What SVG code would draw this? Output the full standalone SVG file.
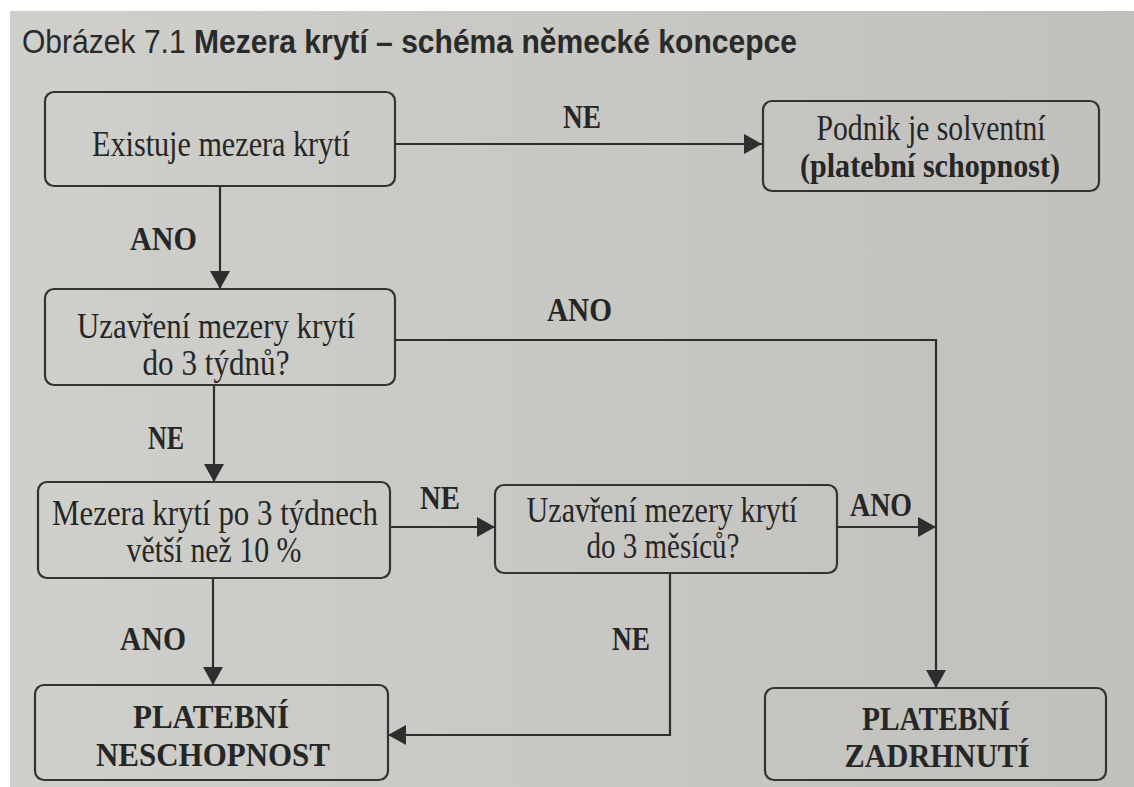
<svg xmlns="http://www.w3.org/2000/svg" width="1134" height="787" viewBox="0 0 1134 787">
<defs>
<linearGradient id="page" x1="0" y1="0" x2="1" y2="0">
<stop offset="0" stop-color="#cfcfcb"/>
<stop offset="1" stop-color="#c1c0bc"/>
</linearGradient>
<marker id="arr" viewBox="0 0 18 20" refX="18" refY="10" markerWidth="18" markerHeight="20" markerUnits="userSpaceOnUse" orient="auto">
<path d="M0,0 L18,10 L0,20 Z" fill="#2e2e2e"/>
</marker>
<style>
.box{fill:none;stroke:#333;stroke-width:2.2}
.t{font-family:"Liberation Serif","Times New Roman",serif;font-size:35px;fill:#262626;text-anchor:middle}
.b{font-family:"Liberation Serif","Times New Roman",serif;font-size:33px;font-weight:bold;fill:#262626}
.c{font-family:"Liberation Serif","Times New Roman",serif;font-size:33px;font-weight:bold;fill:#262626;text-anchor:middle}
.ln{fill:none;stroke:#2e2e2e;stroke-width:2.2}
.title{font-family:"Liberation Sans",Arial,sans-serif;font-size:33px;fill:#2a2a2a}
</style>
</defs>
<rect x="0" y="0" width="1134" height="787" fill="#ffffff"/>
<rect x="10" y="11" width="1124" height="776" fill="url(#page)"/>
<g id="title">
<text class="title" x="22" y="53" textLength="775" lengthAdjust="spacingAndGlyphs">Obrázek 7.1 <tspan font-weight="bold">Mezera krytí – schéma německé koncepce</tspan></text>
</g>
<g id="connectors">
<line class="ln" x1="395" y1="144" x2="762" y2="144" marker-end="url(#arr)"/>
<line class="ln" x1="220" y1="186" x2="220" y2="289" marker-end="url(#arr)"/>
<polyline class="ln" points="395,340 936,340 936,688" marker-end="url(#arr)"/>
<line class="ln" x1="214" y1="385" x2="214" y2="482" marker-end="url(#arr)"/>
<line class="ln" x1="390" y1="527" x2="495" y2="527" marker-end="url(#arr)"/>
<line class="ln" x1="837" y1="527" x2="936" y2="527" marker-end="url(#arr)"/>
<line class="ln" x1="213" y1="578" x2="213" y2="685" marker-end="url(#arr)"/>
<polyline class="ln" points="670,573 670,735 388,735" marker-end="url(#arr)"/>
<text class="b" x="563" y="128" textLength="38" lengthAdjust="spacingAndGlyphs">NE</text>
<text class="b" x="130" y="250" textLength="67" lengthAdjust="spacingAndGlyphs">ANO</text>
<text class="b" x="547" y="321" textLength="65" lengthAdjust="spacingAndGlyphs">ANO</text>
<text class="b" x="148" y="449" textLength="36" lengthAdjust="spacingAndGlyphs">NE</text>
<text class="b" x="420" y="509" textLength="40" lengthAdjust="spacingAndGlyphs">NE</text>
<text class="b" x="850" y="516" textLength="62" lengthAdjust="spacingAndGlyphs">ANO</text>
<text class="b" x="612" y="650" textLength="38" lengthAdjust="spacingAndGlyphs">NE</text>
<text class="b" x="120" y="650" textLength="66" lengthAdjust="spacingAndGlyphs">ANO</text>
</g>
<g id="n1">
<rect class="box" x="45" y="92" width="350" height="94" rx="9"/>
<text class="t" x="221" y="156" textLength="258" lengthAdjust="spacingAndGlyphs">Existuje mezera krytí</text>
</g>
<g id="n2">
<rect class="box" x="763" y="101" width="336" height="90" rx="9"/>
<text class="t" x="931" y="140" textLength="229" lengthAdjust="spacingAndGlyphs">Podnik je solventní</text>
<text class="c" x="930" y="177" textLength="260" lengthAdjust="spacingAndGlyphs">(platební schopnost)</text>
</g>
<g id="n3">
<rect class="box" x="45" y="289" width="350" height="96" rx="9"/>
<text class="t" x="216" y="338" textLength="278" lengthAdjust="spacingAndGlyphs">Uzavření mezery krytí</text>
<text class="t" x="216" y="375" textLength="147" lengthAdjust="spacingAndGlyphs">do 3 týdnů?</text>
</g>
<g id="n4">
<rect class="box" x="38" y="482" width="352" height="96" rx="9"/>
<text class="t" x="215" y="525" textLength="326" lengthAdjust="spacingAndGlyphs">Mezera krytí po 3 týdnech</text>
<text class="t" x="214" y="562" textLength="175" lengthAdjust="spacingAndGlyphs">větší než 10 %</text>
</g>
<g id="n5">
<rect class="box" x="495" y="485" width="342" height="88" rx="9"/>
<text class="t" x="662" y="522" textLength="271" lengthAdjust="spacingAndGlyphs">Uzavření mezery krytí</text>
<text class="t" x="663" y="558" textLength="153" lengthAdjust="spacingAndGlyphs">do 3 měsíců?</text>
</g>
<g id="n6">
<rect class="box" x="35" y="685" width="353" height="95" rx="9"/>
<text class="c" x="211" y="728" textLength="156" lengthAdjust="spacingAndGlyphs">PLATEBNÍ</text>
<text class="c" x="213" y="766" textLength="234" lengthAdjust="spacingAndGlyphs">NESCHOPNOST</text>
</g>
<g id="n7">
<rect class="box" x="765" y="688" width="341" height="92" rx="9"/>
<text class="c" x="936" y="730" textLength="148" lengthAdjust="spacingAndGlyphs">PLATEBNÍ</text>
<text class="c" x="937" y="767" textLength="185" lengthAdjust="spacingAndGlyphs">ZADRHNUTÍ</text>
</g>
</svg>
